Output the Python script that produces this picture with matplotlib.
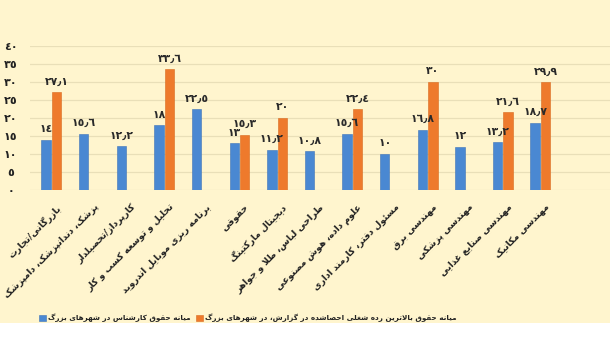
import matplotlib
matplotlib.use("Agg")
import matplotlib.pyplot as plt
import numpy as np
from matplotlib.patches import Rectangle, Patch

# ---------------- data ----------------
categories = [
    "بازرگانی/تجارت",
    "پزشک، دندانپزشک، دامپزشک",
    "کارپرداز/تحصیلدار",
    "تحلیل و توسعه کسب و کار",
    "برنامه ریزی موبایل اندروید",
    "حقوقی",
    "دیجیتال مارکتینگ",
    "طراحی لباس، طلا و جواهر",
    "علوم داده، هوش مصنوعی",
    "مسئول دفتر، کارمند اداری",
    "مهندسی برق",
    "مهندسی پزشکی",
    "مهندسی صنایع غذایی",
    "مهندسی مکانیک",
]
expert_median = [14, 15.6, 12.2, 18, 22.5, 13, 11.2, 10.8, 15.6, 10, 16.8, 12, 13.2, 18.7]
top_median = [27.1, None, None, 33.6, None, 15.3, 20, None, 22.4, None, 30, None, 21.6, 29.9]
y_ticks = [0, 5, 10, 15, 20, 25, 30, 35, 40]
legend_labels = [
    "میانه حقوق کارشناس در شهرهای بزرگ",
    "میانه حقوق بالاترین رده شغلی احصاشده در گزارش، در شهرهای بزرگ",
]

# ---------------- simple Arabic/Persian shaper ----------------
FORMS = {
    'ء': (0xFE80,), 'آ': (0xFE81, 0xFE82), 'أ': (0xFE83, 0xFE84), 'ؤ': (0xFE85, 0xFE86),
    'إ': (0xFE87, 0xFE88), 'ئ': (0xFE89, 0xFE8A, 0xFE8B, 0xFE8C), 'ا': (0xFE8D, 0xFE8E),
    'ب': (0xFE8F, 0xFE90, 0xFE91, 0xFE92), 'ة': (0xFE93, 0xFE94),
    'ت': (0xFE95, 0xFE96, 0xFE97, 0xFE98), 'ث': (0xFE99, 0xFE9A, 0xFE9B, 0xFE9C),
    'ج': (0xFE9D, 0xFE9E, 0xFE9F, 0xFEA0), 'ح': (0xFEA1, 0xFEA2, 0xFEA3, 0xFEA4),
    'خ': (0xFEA5, 0xFEA6, 0xFEA7, 0xFEA8), 'د': (0xFEA9, 0xFEAA), 'ذ': (0xFEAB, 0xFEAC),
    'ر': (0xFEAD, 0xFEAE), 'ز': (0xFEAF, 0xFEB0),
    'س': (0xFEB1, 0xFEB2, 0xFEB3, 0xFEB4), 'ش': (0xFEB5, 0xFEB6, 0xFEB7, 0xFEB8),
    'ص': (0xFEB9, 0xFEBA, 0xFEBB, 0xFEBC), 'ض': (0xFEBD, 0xFEBE, 0xFEBF, 0xFEC0),
    'ط': (0xFEC1, 0xFEC2, 0xFEC3, 0xFEC4), 'ظ': (0xFEC5, 0xFEC6, 0xFEC7, 0xFEC8),
    'ع': (0xFEC9, 0xFECA, 0xFECB, 0xFECC), 'غ': (0xFECD, 0xFECE, 0xFECF, 0xFED0),
    'ف': (0xFED1, 0xFED2, 0xFED3, 0xFED4), 'ق': (0xFED5, 0xFED6, 0xFED7, 0xFED8),
    'ك': (0xFED9, 0xFEDA, 0xFEDB, 0xFEDC), 'ل': (0xFEDD, 0xFEDE, 0xFEDF, 0xFEE0),
    'م': (0xFEE1, 0xFEE2, 0xFEE3, 0xFEE4), 'ن': (0xFEE5, 0xFEE6, 0xFEE7, 0xFEE8),
    'ه': (0xFEE9, 0xFEEA, 0xFEEB, 0xFEEC), 'و': (0xFEED, 0xFEEE), 'ى': (0xFEEF, 0xFEF0),
    'ي': (0xFEF1, 0xFEF2, 0xFEF3, 0xFEF4),
    'پ': (0xFB56, 0xFB57, 0xFB58, 0xFB59), 'چ': (0xFB7A, 0xFB7B, 0xFB7C, 0xFB7D),
    'ژ': (0xFB8A, 0xFB8B), 'ک': (0xFB8E, 0xFB8F, 0xFB90, 0xFB91),
    'گ': (0xFB92, 0xFB93, 0xFB94, 0xFB95), 'ی': (0xFBFC, 0xFBFD, 0xFBFE, 0xFBFF),
}
LAM_ALEF = {'ا': (0xFEFB, 0xFEFC), 'آ': (0xFEF5, 0xFEF6), 'أ': (0xFEF7, 0xFEF8), 'إ': (0xFEF9, 0xFEFA)}


def shape(text):
    chars = list(text)
    units = []
    i = 0
    while i < len(chars):
        c = chars[i]
        if c == 'ل' and i + 1 < len(chars) and chars[i + 1] in LAM_ALEF:
            units.append(('LA', chars[i + 1]))
            i += 2
        else:
            units.append(('C', c))
            i += 1

    def dual(u):
        return u[0] == 'C' and u[1] in FORMS and len(FORMS[u[1]]) == 4

    def joinable(u):
        return u[0] == 'LA' or (u[1] in FORMS and len(FORMS[u[1]]) >= 2)

    out = []
    for k, u in enumerate(units):
        prev = units[k - 1] if k > 0 else None
        nxt = units[k + 1] if k + 1 < len(units) else None
        jp = prev is not None and dual(prev) and joinable(u)
        if u[0] == 'LA':
            f = LAM_ALEF[u[1]]
            out.append(chr(f[1] if jp else f[0]))
            continue
        c = u[1]
        if c == '\u200c':
            continue
        if c not in FORMS:
            out.append(c)
            continue
        f = FORMS[c]
        jn = dual(u) and nxt is not None and joinable(nxt)
        if len(f) == 1:
            out.append(chr(f[0]))
        elif jp and jn:
            out.append(chr(f[3]))
        elif jp:
            out.append(chr(f[1]))
        elif jn:
            out.append(chr(f[2]))
        else:
            out.append(chr(f[0]))
    return ''.join(out)[::-1]


AR_DIGITS = str.maketrans('0123456789.', '٠١٢٣٤٥٦٧٨٩٫')


def ar_num(v):
    return ('%g' % v).translate(AR_DIGITS)


# ---------------- figure ----------------
plt.rcParams['font.family'] = ['DejaVu Sans']
fig = plt.figure(figsize=(6.10, 3.43), dpi=100)
fig.patch.set_facecolor('white')
bg = Rectangle((0, 1 - 323 / 343), 1, 323 / 343, transform=fig.transFigure,
               facecolor='#FFF5CE', edgecolor='none', zorder=-10)
fig.patches.append(bg)

ax = fig.add_axes([30 / 610, 1 - 190 / 343, 1 - 30 / 610, 144 / 343])
ax.set_facecolor('none')

blue = '#4A88D2'
orange = '#EE7A2C'
x = np.arange(len(categories))
w = 0.25
off = 0.14

b_vals = np.array(expert_median, dtype=float)
o_vals = np.array([np.nan if v is None else v for v in top_median], dtype=float)

ax.bar(x - off, b_vals, width=w, color=blue, edgecolor='#3E74B8', linewidth=0.4, zorder=3)
mask = ~np.isnan(o_vals)
ax.bar(x[mask] + off, o_vals[mask], width=w, color=orange, edgecolor='#D86A20', linewidth=0.4, zorder=3)

for xi, v in zip(x, b_vals):
    ax.annotate(ar_num(v), (xi - off, v), xytext=(0, 4), textcoords='offset points',
                ha='center', va='bottom', fontsize=7.8, fontweight='bold', color='#2a2a2a')
for xi, v in zip(x[mask], o_vals[mask]):
    ax.annotate(ar_num(v), (xi + off, v), xytext=(0, 4), textcoords='offset points',
                ha='center', va='bottom', fontsize=7.8, fontweight='bold', color='#2a2a2a')

ax.set_ylim(0, 40)
ax.set_xlim(-0.57, 14.85)
ax.set_yticks(y_ticks)
ax.set_yticklabels([ar_num(t) for t in y_ticks], fontsize=8, fontweight='bold', color='#222222')
ax.tick_params(axis='y', length=0, pad=14)
for lab in ax.get_yticklabels():
    lab.set_horizontalalignment('center')
ax.yaxis.grid(True, color='#E9DFB8', linewidth=0.9, zorder=0)
ax.set_axisbelow(True)
for s in ax.spines.values():
    s.set_visible(False)

ax.set_xticks(x + 0.12)
ax.set_xticklabels([shape(c) for c in categories], rotation=45, ha='right', va='top',
                   rotation_mode='anchor', fontsize=6.6, fontweight='bold', color='#222222')
ax.tick_params(axis='x', length=0, pad=9)

handles = [Patch(facecolor=blue, edgecolor='#3E74B8', linewidth=0.4),
           Patch(facecolor=orange, edgecolor='#D86A20', linewidth=0.4)]
leg = fig.legend(handles, [shape(t) for t in legend_labels], ncol=2, loc='center',
                 bbox_to_anchor=(248 / 610, 1 - 318 / 343), frameon=False,
                 prop={'size': 5.2, 'weight': 'bold'}, handlelength=0.9, handleheight=0.9,
                 handletextpad=0.3, columnspacing=0.8, borderpad=0.2)
for t in leg.get_texts():
    t.set_color('#222222')

fig.savefig('out.png', dpi=100, facecolor=fig.get_facecolor())
